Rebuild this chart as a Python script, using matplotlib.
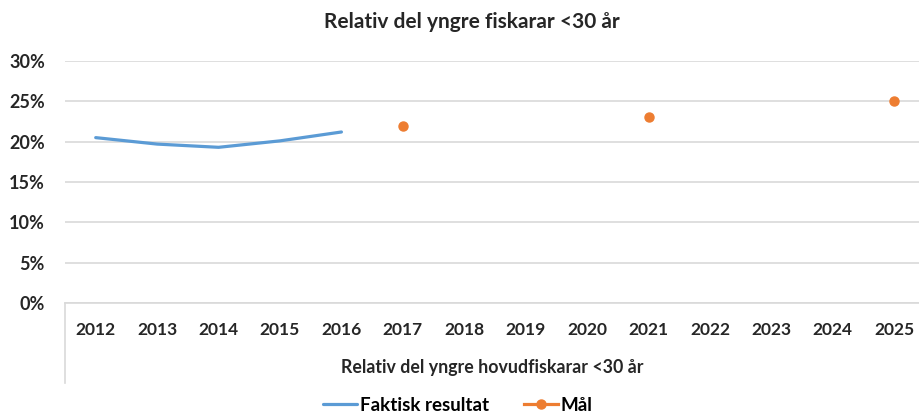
import numpy as np
import matplotlib.pyplot as plt
from matplotlib.lines import Line2D

BLUE = "#5B9BD5"
ORANGE = "#ED7D31"
GRID = "#D9D9D9"
TEXT = "#262626"

years = ["2012", "2013", "2014", "2015", "2016", "2017", "2018",
         "2019", "2020", "2021", "2022", "2023", "2024", "2025"]
faktisk = [0.205, 0.197, 0.193, 0.201, 0.212,
           np.nan, np.nan, np.nan, np.nan, np.nan, np.nan, np.nan, np.nan, np.nan]
maal = [np.nan, np.nan, np.nan, np.nan, np.nan, 0.22, np.nan,
        np.nan, np.nan, 0.23, np.nan, np.nan, np.nan, 0.25]
y_ticks = [0, 0.05, 0.10, 0.15, 0.20, 0.25, 0.30]

plt.rcParams["font.family"] = ["Lato", "DejaVu Sans"]

fig = plt.figure(figsize=(9.2, 4.15), dpi=100)
ax = fig.add_axes([65 / 920, 112 / 415, 860 / 920, 242 / 415])

x = np.arange(len(years))
ax.plot(x, faktisk, "-", color=BLUE, linewidth=2.3, label="Faktisk resultat",
        solid_capstyle="round")
ax.plot(x, maal, "-o", color=ORANGE, linewidth=2.3, markersize=6.5,
        label="Mål")

ax.set_xlim(-0.5, len(years) - 0.5)
ax.set_ylim(0, 0.30)
ax.set_yticks(y_ticks)
ax.set_yticklabels([f"{int(round(v * 100))}%" for v in y_ticks],
                   fontsize=13, fontweight="bold", color=TEXT)
ax.set_xticks(x)
ax.set_xticklabels(years, fontsize=12.5, fontweight="bold", color=TEXT)
ax.tick_params(length=0)
ax.tick_params(axis="x", pad=14)
ax.tick_params(axis="y", pad=14.5)
ax.yaxis.grid(True, color=GRID, linewidth=1.2)
ax.set_axisbelow(True)
for side in ["top", "right", "left"]:
    ax.spines[side].set_visible(False)
ax.spines["bottom"].set_color(GRID)
ax.spines["bottom"].set_linewidth(1.2)

# Excel-style category axis frame on the left
fig.add_artist(Line2D([65 / 920, 65 / 920], [112 / 415, 32 / 415],
                      color=GRID, linewidth=1.2))

fig.text(472 / 920, 393 / 415, "Relativ del yngre fiskarar <30 år",
         ha="center", va="center", fontsize=15, fontweight="bold", color=TEXT)
fig.text(492 / 920, 48 / 415, "Relativ del yngre hovudfiskarar <30 år",
         ha="center", va="center", fontsize=12.8, fontweight="bold", color=TEXT)

fig.legend(loc="center", bbox_to_anchor=(458 / 920, 10 / 415), ncol=2,
           frameon=False, handlelength=1.8, handletextpad=0.15,
           columnspacing=1.9, prop={"weight": "bold", "size": 13.5})

fig.savefig("out.png", dpi=100)
